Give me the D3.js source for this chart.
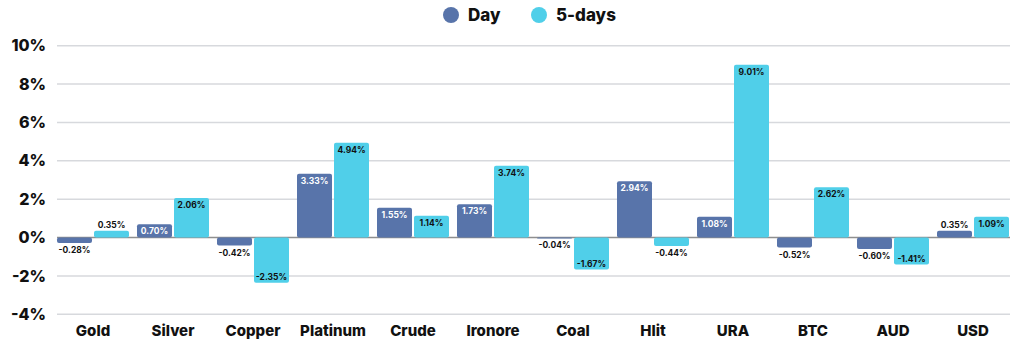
<!DOCTYPE html>
<html>
<head>
<meta charset="utf-8">
<script src="https://cdn.jsdelivr.net/npm/d3@7"></script>
<style>
  body { margin: 0; background: #fff; }
  text { font-family: Inter, "Noto Sans", sans-serif; }
</style>
</head>
<body>
<script>
let width = 1024;
let height = 362;

let categories = ["Gold", "Silver", "Copper", "Platinum", "Crude", "Ironore", "Coal", "Hlit", "URA", "BTC", "AUD", "USD"];
let seriesNames = ["Day", "5-days"];
let dayValues = [-0.28, 0.70, -0.42, 3.33, 1.55, 1.73, -0.04, 2.94, 1.08, -0.52, -0.60, 0.35];
let fiveDayValues = [0.35, 2.06, -2.35, 4.94, 1.14, 3.74, -1.67, -0.44, 9.01, 2.62, -1.41, 1.09];
let yTicks = [-4, -2, 0, 2, 4, 6, 8, 10];
let colors = ["#5874aa", "#50cfe9"];

let svg = d3.select("body")
            .append("svg")
            .attr("width", width)
            .attr("height", height);

let x0 = d3.scaleBand()
    .domain(categories)
    .range([57, 1009])
    .paddingInner(0.1)
    .paddingOuter(0);

let x1 = d3.scaleBand()
    .domain(seriesNames)
    .range([0, x0.bandwidth()])
    .paddingInner(2 / 37);

let y = d3.scaleLinear()
    .domain([-4, 10])
    .range([314.3, 45.7]);

// grid lines
svg.append("g")
    .selectAll("line")
    .data(yTicks)
    .join("line")
    .attr("x1", 57)
    .attr("x2", 1010)
    .attr("y1", d => y(d))
    .attr("y2", d => y(d))
    .style("stroke", d => d === 0 ? "#8f8f8f" : "#d7d9dd")
    .style("stroke-width", 1.5);

// y axis labels
let yAxis = svg.append("g")
    .attr("transform", "translate(46,0)")
    .call(d3.axisLeft(y).tickValues(yTicks).tickSize(0).tickPadding(0).tickFormat(d => d + "%"));
yAxis.select(".domain").remove();
yAxis.selectAll("text")
    .style("font-family", "Inter, sans-serif")
    .style("font-size", "16px")
    .style("font-weight", "800")
    .style("fill", "#111");

// x axis labels
let xAxis = svg.append("g")
    .attr("transform", "translate(0,320)")
    .call(d3.axisBottom(x0).tickSize(0).tickPadding(5));
xAxis.select(".domain").remove();
xAxis.selectAll("text")
    .style("font-family", "Inter, sans-serif")
    .style("font-size", "15px")
    .style("font-weight", "800")
    .style("fill", "#111");

let rows = [];
categories.forEach((c, i) => {
    rows.push({cat: c, series: "Day", value: dayValues[i], idx: 0});
    rows.push({cat: c, series: "5-days", value: fiveDayValues[i], idx: 1});
});

let bars = svg.append("g")
    .selectAll("g")
    .data(rows)
    .join("g")
    .attr("transform", d => `translate(${x0(d.cat) + x1(d.series)},0)`);

bars.append("rect")
    .attr("x", 0)
    .attr("width", x1.bandwidth())
    .attr("y", d => y(Math.max(0, d.value)))
    .attr("height", d => Math.max(1, Math.abs(y(d.value) - y(0))))
    .attr("rx", 2)
    .style("fill", d => colors[d.idx]);

bars.append("text")
    .attr("x", x1.bandwidth() / 2)
    .attr("y", d => {
        let h = Math.abs(y(d.value) - y(0));
        let inside = h >= 12;
        if (d.value >= 0) return inside ? y(d.value) + 10 : y(d.value) - 3;
        return inside ? y(d.value) - 3 : y(d.value) + 10;
    })
    .attr("text-anchor", "middle")
    .style("font-size", "8.5px")
    .style("font-weight", "700")
    .style("fill", d => {
        let h = Math.abs(y(d.value) - y(0));
        return (d.idx === 0 && d.value > 0 && h >= 12) ? "#ffffff" : "#111";
    })
    .text(d => d.value.toFixed(2) + "%");

// legend
let legend = svg.append("g");
let legendX = [451, 539];
seriesNames.forEach((s, i) => {
    legend.append("circle")
        .attr("cx", legendX[i])
        .attr("cy", 15)
        .attr("r", 8)
        .style("fill", colors[i]);
    legend.append("text")
        .attr("x", legendX[i] + 17)
        .attr("y", 21)
        .style("font-size", "17px")
        .style("font-weight", "800")
        .style("fill", "#111")
        .text(s);
});
</script>
</body>
</html>
